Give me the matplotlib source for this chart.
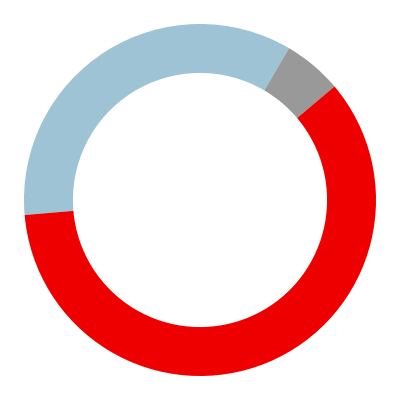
import matplotlib
matplotlib.use("Agg")
import matplotlib.pyplot as plt

labels = ['Blue', 'Gray', 'Red']
values = [34.8, 5.4, 59.8]
colors = ['#9dc3d5', '#999999', '#ee0000']

fig = plt.figure(figsize=(4, 4), dpi=100)
ax = fig.add_axes([0, 0, 1, 1])
ax.pie(values, colors=colors, startangle=184.9, counterclock=False,
       radius=1, wedgeprops=dict(width=0.278, edgecolor='none'))
lim = 200 / 176
ax.set_xlim(-lim, lim)
ax.set_ylim(-lim, lim)
ax.set_aspect('equal')
ax.axis('off')
fig.savefig('out.png', dpi=100)
